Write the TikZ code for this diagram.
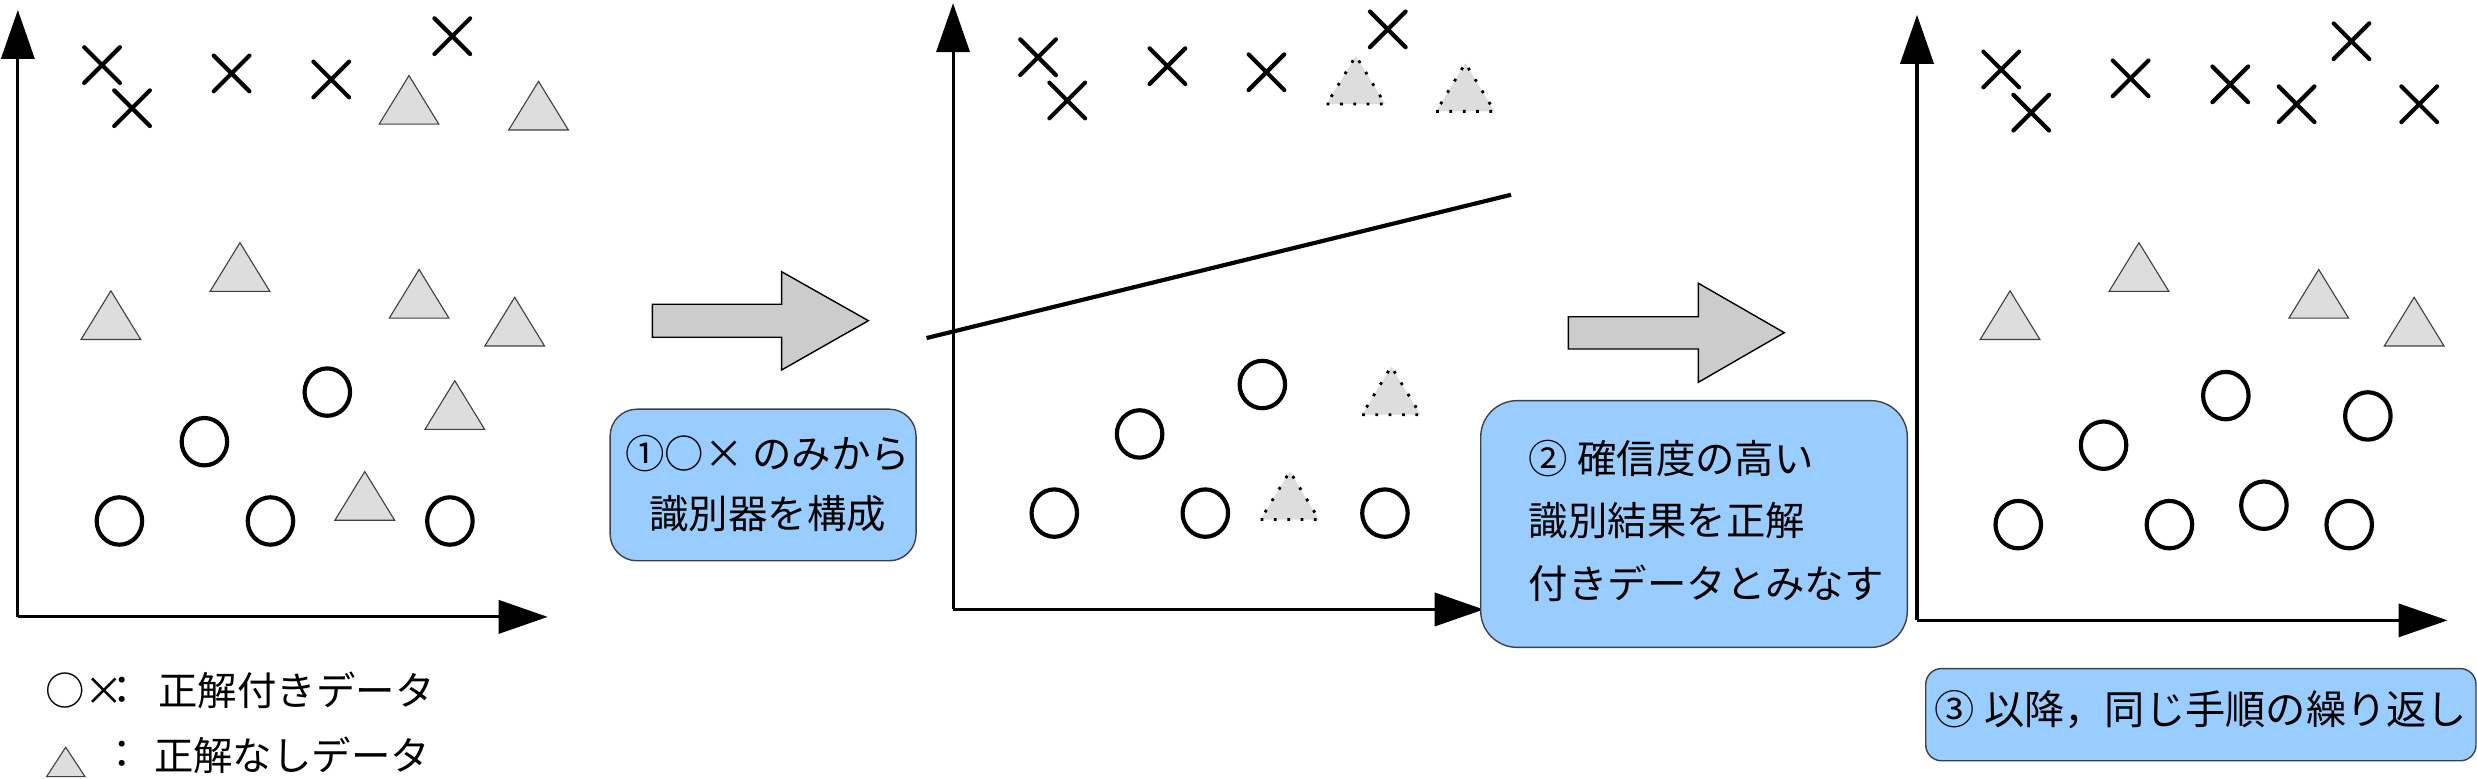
\documentclass[tikz,border=0pt]{standalone}
\usepackage{fontspec}
\setmainfont{Noto Sans CJK JP}
\usetikzlibrary{arrows.meta,calc}
\definecolor{boxblue}{HTML}{99CCFF}
\definecolor{trigray}{HTML}{DDDDDD}
\definecolor{arrgray}{HTML}{CCCCCC}
\begin{document}
\begin{tikzpicture}[x=0.02cm,y=-0.02cm,
  axis/.style={line width=1.1pt,-{Triangle[length=0.62cm,width=0.42cm]}},
  sepline/.style={line width=1.5pt},
  blockarrow/.style={fill=arrgray,draw=black,line width=0.5pt},
  bluebox/.style={fill=boxblue,draw=black!75,line width=0.5pt,inner sep=0pt},
  txt/.style={inner sep=0pt,font=\fontsize{14.2pt}{21.6pt}\selectfont},
  xm/.pic={\draw[line width=1.5pt,line cap=round] (-11.3,-11.3)--(11.3,11.3) (-11.3,11.3)--(11.3,-11.3);},
  utri/.pic={\draw[fill=trigray,draw=black!75,line width=0.4pt] (-18.9,0)--(18.9,0)--(0,-30.8)--cycle;},
  dtri/.pic={\fill[trigray] (-18.5,0)--(18.5,0)--(0,-30.5)--cycle;
             \draw[black,line width=1pt,dash pattern=on 1pt off 3.8pt] (-18.5,0)--(18.5,0)--(0,-30.5)--cycle;},
  circ/.pic={\draw[line width=1.5pt] (0,0) ellipse [x radius=14.4,y radius=15];}
]
\useasboundingbox (0,0) rectangle (1568,492.5);

% ---------- panel 1 ----------
\coordinate (o1) at (11.3,390.5);
\coordinate (y1) at (11.3,6.3);
\coordinate (x1) at (346.7,390.5);
\draw[axis] (o1) -- (y1);
\draw[axis] (o1) -- (x1);
\foreach \p in {(64.6,41.2),(83.6,68.5),(146.6,46.5),(209.7,50.3),(286.3,22.9)}
  \pic at \p {xm};
\foreach \p in {(258.9,78.6),(340.9,82.3),(151.9,184.4),(70.2,214.9),(265.3,201.4),(325.8,219),(287.9,271.8),(230.9,329.3)}
  \pic at \p {utri};
\foreach \p in {(75.6,329.8),(171.2,329.8),(284.8,329.8),(129.4,279.6),(207.2,248.2)}
  \pic at \p {circ};

% legend
\node[txt] (leg1sym) at (53.5,437) {○×};
\node[txt] (leg1col) at (77.5,437) {：};
\node[txt,anchor=west] (leg1txt) at (100,437) {正解付きデータ};
\draw[fill=trigray,draw=black!75,line width=0.4pt] (29.5,491.6)--(53.8,491.6)--(41.6,473)--cycle;
\node[txt] (leg2col) at (77.5,478) {：};
\node[txt,anchor=west] (leg2txt) at (97.2,478) {正解なしデータ};

% ---------- arrow 1 and box 1 ----------
\draw[blockarrow] (413,192.6) -- (494.8,192.6) -- (494.8,172) -- (549.7,203) -- (494.8,234.2) -- (494.8,213.5) -- (413,213.5) -- cycle;
\node[bluebox,minimum width=3.874cm,minimum height=1.92cm,rounded corners=0.34cm] (box1) at (483.05,307) {};
\node[txt,align=center] (box1txt) at (486,305.9) {①○× のみから\\識別器を構成};

% ---------- panel 2 ----------
\coordinate (o2) at (603.3,385.8);
\coordinate (y2) at (603.3,2);
\coordinate (x2) at (939.2,385.8);
\draw[axis] (o2) -- (y2);
\draw[axis] (o2) -- (x2);
\coordinate (l2a) at (586.5,214);
\coordinate (l2b) at (956.5,123.3);
\draw[sepline] (l2a) -- (l2b);
\foreach \p in {(657.1,36.2),(675.6,63.6),(739,41.9),(801.7,45.7),(878.5,18.6)}
  \pic at \p {xm};
\foreach \p in {(858.3,65.9),(927.6,70.5),(880.7,262.5),(816.5,328.9)}
  \pic at \p {dtri};
\foreach \p in {(667.4,324.8),(763,324.8),(876.7,324.8),(721.4,274.7),(799.1,243.4)}
  \pic at \p {circ};

% ---------- arrow 2 and box 2 ----------
\draw[blockarrow] (992.8,200.5) -- (1075.1,200.5) -- (1075.1,179.3) -- (1129.5,210.6) -- (1075.1,242) -- (1075.1,220.9) -- (992.8,220.9) -- cycle;
\node[bluebox,minimum width=5.402cm,minimum height=3.124cm,rounded corners=0.46cm] (box2) at (1072.35,331.7) {};
\node[txt,align=left,anchor=west,font=\fontsize{14.2pt}{22.5pt}\selectfont] (box2txt) at (967.5,329.7) {② 確信度の高い\\識別結果を正解\\付きデータとみなす};

% ---------- panel 3 ----------
\coordinate (o3) at (1213.5,392.7);
\coordinate (y3) at (1213.5,9.4);
\coordinate (x3) at (1549.3,392.7);
\draw[axis] (o3) -- (y3);
\draw[axis] (o3) -- (x3);
\foreach \p in {(1266.8,44),(1285.8,71.3),(1348.7,49.6),(1411.8,53.4),(1453.8,66),(1488.5,26.1),(1531.4,66)}
  \pic at \p {xm};
\foreach \p in {(1272.4,214.9),(1354,184.4),(1467.8,201.4),(1528.2,219)}
  \pic at \p {utri};
\foreach \p in {(1277.6,332.1),(1373.3,332.1),(1433.1,319.8),(1487.1,332.1),(1331.6,281.8),(1409,250.4),(1498.9,263.3)}
  \pic at \p {circ};

% box 3
\node[bluebox,minimum width=6.968cm,minimum height=1.168cm,rounded corners=0.2cm] (box3) at (1393.2,452.4) {};
\node[txt,font=\fontsize{14.5pt}{21.6pt}\selectfont] (box3txt) at (1393.2,449.2) {③ 以降，同じ手順の繰り返し};
\end{tikzpicture}
\end{document}
